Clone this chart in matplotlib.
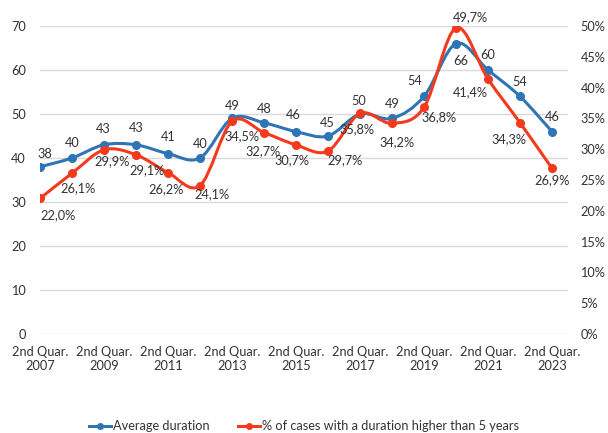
import matplotlib.pyplot as plt
import numpy as np
from matplotlib.path import Path
from matplotlib.patches import PathPatch
from matplotlib.ticker import FuncFormatter
from matplotlib.lines import Line2D

plt.rcParams['font.family'] = ['Lato', 'DejaVu Sans']

years = list(range(2007, 2024))
avg_duration = [38, 40, 43, 43, 41, 40, 49, 48, 46, 45, 50, 49, 54, 66, 60, 54, 46]
pct_over5 = [22.0, 26.1, 29.9, 29.1, 26.2, 24.1, 34.5, 32.7, 30.7, 29.7,
             35.8, 34.2, 36.8, 49.7, 41.4, 34.3, 26.9]
tick_labels = ["2nd Quar.\n%d" % y for y in years[::2]]

blue = "#2E75B6"
red = "#F5391C"
txt = "#333333"
fs = 9.2

# label offsets in pixels, +y is downwards (layout only)
blue_off = [(5, -13), (0, -15), (-1, -16), (0, -17), (0, -17), (0, -14), (0, -12),
            (0, -14), (-3, -17), (-1, -13), (-1, -13), (0, -14), (-9, -15),
            (5, 17), (0, -15), (0, -14), (0, -15)]
red_off = [(18, 17), (6, 15), (8, 11), (11, 15), (-2, 17), (12, 9), (10, 15),
           (-1, 19), (-4, 15), (17, 9), (-3, 16), (5, 19), (15, 10), (14, -11),
           (-18, 13), (-11, 16), (0, 12)]


def smooth_path(x, y):
    x = np.asarray(x, float)
    y = np.asarray(y, float)
    px = np.concatenate([[x[0]], x, [x[-1]]])
    py = np.concatenate([[y[0]], y, [y[-1]]])
    verts = [(x[0], y[0])]
    codes = [Path.MOVETO]
    for i in range(1, len(px) - 2):
        c1 = (px[i] + (px[i + 1] - px[i - 1]) / 6, py[i] + (py[i + 1] - py[i - 1]) / 6)
        c2 = (px[i + 1] - (px[i + 2] - px[i]) / 6, py[i + 1] - (py[i + 2] - py[i]) / 6)
        verts += [c1, c2, (px[i + 1], py[i + 1])]
        codes += [Path.CURVE4] * 3
    return Path(verts, codes)


fig = plt.figure(figsize=(6.08, 4.33), dpi=100)
ax = fig.add_axes([40 / 608, 1 - 334 / 433, 528 / 608, 308 / 433])
ax2 = ax.twinx()

x = np.arange(len(years))
pct = np.array(pct_over5) / 100

ax.add_patch(PathPatch(smooth_path(x, avg_duration), fill=False, ec=blue, lw=2.2,
                       capstyle='round', joinstyle='round'))
ax.plot(x, avg_duration, 'o', color=blue, ms=5.5)
ax2.add_patch(PathPatch(smooth_path(x, pct), fill=False, ec=red, lw=2.2,
                        capstyle='round', joinstyle='round'))
ax2.plot(x, pct, 'o', color=red, ms=5.5)

ax.set_xlim(0, 16.5)
ax.set_ylim(0, 70)
ax2.set_ylim(0, 0.5)
ax.set_yticks(range(0, 71, 10))
ax2.set_yticks(np.arange(0, 0.501, 0.05))
ax2.yaxis.set_major_formatter(FuncFormatter(lambda v, p: "%d%%" % round(v * 100)))
ax.set_xticks(x[::2])
ax.set_xticklabels(tick_labels)

ax.grid(axis='y', color='#D9D9D9', lw=1)
ax.set_axisbelow(True)
for a in (ax, ax2):
    for s in a.spines.values():
        s.set_visible(False)
ax.tick_params(axis='y', length=0, pad=10, labelsize=fs, labelcolor=txt)
ax.tick_params(axis='x', length=0, pad=9, labelsize=fs, labelcolor=txt)
ax2.tick_params(axis='y', length=0, pad=9, labelsize=fs, labelcolor=txt)

for i, v in enumerate(avg_duration):
    ax.annotate(str(v), (x[i], v), xytext=(blue_off[i][0] * 0.72, -blue_off[i][1] * 0.72),
                textcoords='offset points', ha='center', va='center',
                fontsize=fs, color=txt)
for i, v in enumerate(pct_over5):
    ax2.annotate(("%.1f%%" % v).replace('.', ','), (x[i], pct[i]),
                 xytext=(red_off[i][0] * 0.72, -red_off[i][1] * 0.72),
                 textcoords='offset points', ha='center', va='center',
                 fontsize=fs, color=txt)

handles = [Line2D([], [], color=blue, lw=2.2, marker='o', ms=4),
           Line2D([], [], color=red, lw=2.2, marker='o', ms=4)]
fig.legend(handles, ["Average duration", "% of cases with a duration higher than 5 years"],
           loc='center', bbox_to_anchor=(0.5, 1 - 426 / 433), ncol=2, frameon=False,
           fontsize=fs, labelcolor=txt, handlelength=1.7, handletextpad=0.2,
           columnspacing=2.2)

fig.savefig("out.png", dpi=100)
